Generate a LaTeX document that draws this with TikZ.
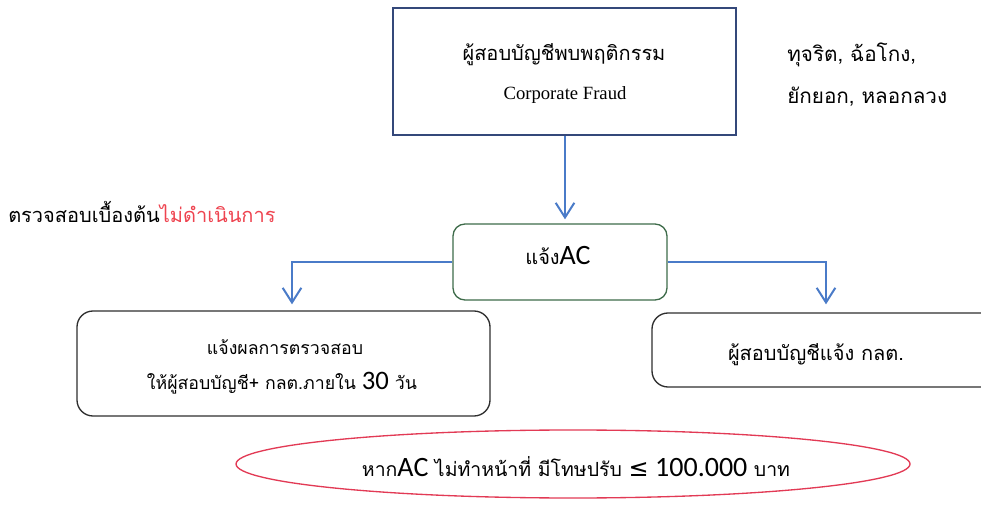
\documentclass[tikz,border=0pt]{standalone}
\usepackage{fontspec}
\setmainfont{Liberation Serif}
\newfontfamily\thai[Script=Thai]{Loma}
\newfontfamily\lat{Carlito}
\newfontfamily\sym{DejaVu Sans}
\usetikzlibrary{arrows.meta,calc,shapes.geometric}
\definecolor{arrblue}{HTML}{4A7BC8}
\definecolor{topframe}{HTML}{34487A}
\definecolor{acframe}{HTML}{3E6B4A}
\definecolor{boxframe}{HTML}{2E2E2E}
\definecolor{redline}{HTML}{E23A55}
\definecolor{redtext}{HTML}{EE4450}
\def\upx{0.75pt}
\tikzset{
  arr/.style={draw=arrblue, line width=1.5pt, -{Straight Barb[length=11pt,width=14pt,line width=1.5pt]}},
  topbox/.style={draw=topframe, line width=1.6pt, inner sep=0pt},
  acbox/.style={draw=acframe, line width=1pt, rounded corners=9pt, inner sep=0pt},
  rbox/.style={draw=boxframe, line width=1pt, rounded corners=12pt, inner sep=0pt},
  lbl/.style={inner sep=0pt, text=black},
}
\begin{document}
\begin{tikzpicture}[x=0.75pt,y=-0.75pt]
\useasboundingbox (0,0) rectangle (981,505);
% boxes
\node[topbox, minimum width=343*\upx, minimum height=127*\upx] (top) at (564.5,71.5) {};
\node[acbox, minimum width=214*\upx, minimum height=76*\upx] (ac) at (560,262) {};
\node[rbox, minimum width=413*\upx, minimum height=105*\upx] (lbox) at (283.5,363.5) {};
\node[rbox, minimum width=348*\upx, minimum height=74*\upx] (rboxn) at (826,350) {};
\node[ellipse, draw=redline, line width=1pt, minimum width=674*\upx, minimum height=68*\upx, inner sep=0pt] (ell) at (573,464) {};
% texts
\node[lbl, font=\thai\fontsize{15}{18}\selectfont] (t1) at (564,55) {ผู้สอบบัญชีพบพฤติกรรม};
\node[lbl, font=\fontsize{14}{17}\selectfont] (t2) at (565,95) {Corporate Fraud};
\node[lbl, anchor=base west, font=\thai\fontsize{15.5}{18}\selectfont] (r1) at (787,62) {ทุจริต, ฉ้อโกง,};
\node[lbl, anchor=base west, font=\thai\fontsize{15.5}{18}\selectfont] (r2) at (787,104) {ยักยอก, หลอกลวง};
\node[lbl, anchor=base west, font=\thai\fontsize{15}{18}\selectfont] (lt) at (8,223) {ตรวจสอบเบื้องต้น\textcolor{redtext}{ไม่ดำเนินการ}};
\node[lbl, anchor=base, font=\thai\fontsize{15}{18}\selectfont] (act) at (558,265) {แจ้ง{\lat\fontsize{21}{24}\selectfont AC}};
\node[lbl, anchor=base, font=\thai\fontsize{13.3}{16}\selectfont] (l1) at (285,355) {แจ้งผลการตรวจสอบ};
\node[lbl, anchor=base, font=\thai\fontsize{13.3}{16}\selectfont] (l2) at (282,390) {ให้ผู้สอบบัญชี+ กลต.ภายใน {\lat\fontsize{20}{24}\selectfont 30} วัน};
\node[lbl, anchor=base, font=\thai\fontsize{15}{18}\selectfont] (rt) at (816,361) {ผู้สอบบัญชีแจ้ง กลต.};
\node[lbl, anchor=base, font=\thai\fontsize{14.6}{18}\selectfont] (et) at (576,476) {หาก{\lat\fontsize{21}{24}\selectfont AC} ไม่ทำหน้าที่ มีโทษปรับ {\sym\fontsize{18}{20}\selectfont ≤} {\lat\fontsize{21}{24}\selectfont 100.000} บาท};
% connectors
\coordinate (topout) at ($(top.south)+(0.5,0)$);
\draw[arr, shorten >=3pt] (topout) -- (topout |- ac.north);
\draw[arr, shorten >=4.5pt] (ac.west) -| ($(lbox.north)+(8.5,0)$);
\draw[arr, shorten >=6pt] (ac.east) -| (rboxn.north);
\end{tikzpicture}
\end{document}
